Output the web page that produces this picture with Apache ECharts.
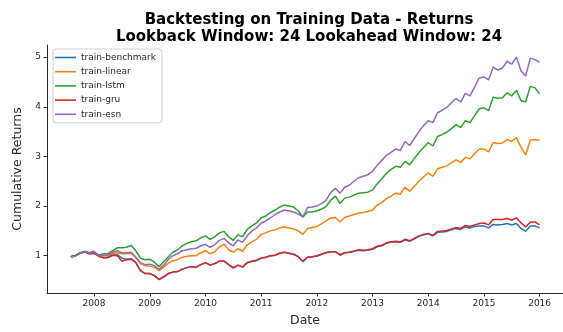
<!DOCTYPE html>
<html>
<head>
<meta charset="utf-8">
<script src="https://cdn.jsdelivr.net/npm/echarts@6/dist/echarts.min.js"></script>
<style>
  html, body { margin: 0; padding: 0; background: #ffffff; }
  #chart { width: 563px; height: 332px; }
</style>
</head>
<body>
<div id="chart"></div>
<script>
// Month-end dates of the backtest (Jul 2007 - Dec 2015)
const months = [
  '2007-07','2007-08','2007-09','2007-10','2007-11','2007-12',
  '2008-01','2008-02','2008-03','2008-04','2008-05','2008-06','2008-07','2008-08','2008-09','2008-10','2008-11','2008-12',
  '2009-01','2009-02','2009-03','2009-04','2009-05','2009-06','2009-07','2009-08','2009-09','2009-10','2009-11','2009-12',
  '2010-01','2010-02','2010-03','2010-04','2010-05','2010-06','2010-07','2010-08','2010-09','2010-10','2010-11','2010-12',
  '2011-01','2011-02','2011-03','2011-04','2011-05','2011-06','2011-07','2011-08','2011-09','2011-10','2011-11','2011-12',
  '2012-01','2012-02','2012-03','2012-04','2012-05','2012-06','2012-07','2012-08','2012-09','2012-10','2012-11','2012-12',
  '2013-01','2013-02','2013-03','2013-04','2013-05','2013-06','2013-07','2013-08','2013-09','2013-10','2013-11','2013-12',
  '2014-01','2014-02','2014-03','2014-04','2014-05','2014-06','2014-07','2014-08','2014-09','2014-10','2014-11','2014-12',
  '2015-01','2015-02','2015-03','2015-04','2015-05','2015-06','2015-07','2015-08','2015-09','2015-10','2015-11','2015-12'
];

const benchmark = [
  0.98, 1.00, 1.05, 1.08, 1.04, 1.05,
  0.99, 0.96, 0.96, 1.01, 1.02, 0.95, 0.93, 0.94, 0.86, 0.70, 0.64, 0.64,
  0.60, 0.52, 0.57, 0.64, 0.67, 0.68, 0.73, 0.76, 0.78, 0.77, 0.82, 0.86,
  0.81, 0.84, 0.89, 0.89, 0.82, 0.75, 0.81, 0.77, 0.86, 0.89, 0.90, 0.95,
  0.97, 1.00, 1.01, 1.05, 1.07, 1.05, 1.03, 0.98, 0.88, 0.97, 0.98, 0.99,
  1.03, 1.06, 1.08, 1.08, 1.01, 1.06, 1.07, 1.09, 1.11, 1.10, 1.11, 1.13,
  1.18, 1.20, 1.25, 1.27, 1.28, 1.27, 1.32, 1.29, 1.34, 1.39, 1.42, 1.44,
  1.40, 1.47, 1.48, 1.49, 1.52, 1.55, 1.53, 1.58, 1.56, 1.59, 1.60, 1.60,
  1.56, 1.63, 1.62, 1.63, 1.65, 1.62, 1.65, 1.55, 1.49, 1.60, 1.60, 1.56
];

const linear = [
  0.98, 1.00, 1.05, 1.08, 1.05, 1.06,
  1.00, 1.00, 1.00, 1.04, 1.06, 1.04, 1.04, 1.05, 0.96, 0.84, 0.80, 0.79,
  0.77, 0.70, 0.77, 0.85, 0.90, 0.92, 0.97, 0.99, 1.00, 1.00, 1.06, 1.10,
  1.04, 1.08, 1.18, 1.23, 1.12, 1.07, 1.14, 1.09, 1.22, 1.28, 1.33, 1.43,
  1.46, 1.50, 1.52, 1.56, 1.58, 1.56, 1.54, 1.50, 1.43, 1.55, 1.57, 1.59,
  1.64, 1.70, 1.76, 1.77, 1.68, 1.77, 1.80, 1.83, 1.86, 1.87, 1.89, 1.92,
  2.02, 2.07, 2.15, 2.20, 2.26, 2.24, 2.38, 2.30, 2.40, 2.50, 2.59, 2.67,
  2.60, 2.75, 2.78, 2.81, 2.87, 2.93, 2.88, 2.98, 2.95, 3.06, 3.15, 3.15,
  3.09, 3.28, 3.26, 3.27, 3.34, 3.30, 3.38, 3.18, 3.03, 3.33, 3.34, 3.32
];

const lstm = [
  0.98, 1.00, 1.06, 1.09, 1.06, 1.09,
  1.01, 1.04, 1.04, 1.10, 1.16, 1.16, 1.17, 1.21, 1.10, 0.95, 0.92, 0.93,
  0.87, 0.78, 0.88, 0.98, 1.07, 1.12, 1.20, 1.25, 1.28, 1.30, 1.36, 1.40,
  1.33, 1.38, 1.46, 1.49, 1.38, 1.31, 1.42, 1.38, 1.53, 1.60, 1.66, 1.76,
  1.80, 1.87, 1.92, 1.98, 2.02, 2.00, 1.98, 1.90, 1.78, 1.88, 1.88, 1.90,
  1.94, 1.99, 2.12, 2.20, 2.05, 2.16, 2.18, 2.22, 2.26, 2.27, 2.28, 2.32,
  2.45, 2.55, 2.66, 2.74, 2.80, 2.78, 2.90, 2.83, 2.96, 3.08, 3.18, 3.28,
  3.21, 3.40, 3.44, 3.49, 3.56, 3.64, 3.58, 3.72, 3.68, 3.82, 3.96, 3.98,
  3.92, 4.19, 4.17, 4.18, 4.28, 4.22, 4.33, 4.12, 4.10, 4.41, 4.38, 4.26
];

const gru = [
  0.98, 1.00, 1.05, 1.08, 1.04, 1.05,
  0.99, 0.96, 0.97, 1.01, 1.00, 0.89, 0.92, 0.93, 0.86, 0.70, 0.64, 0.64,
  0.60, 0.52, 0.58, 0.64, 0.67, 0.68, 0.73, 0.76, 0.78, 0.77, 0.82, 0.86,
  0.81, 0.84, 0.89, 0.89, 0.82, 0.76, 0.81, 0.77, 0.86, 0.89, 0.91, 0.95,
  0.97, 1.00, 1.01, 1.05, 1.07, 1.05, 1.03, 0.98, 0.89, 0.97, 0.98, 1.00,
  1.03, 1.06, 1.08, 1.08, 1.02, 1.06, 1.07, 1.09, 1.12, 1.11, 1.12, 1.14,
  1.19, 1.21, 1.26, 1.28, 1.29, 1.28, 1.33, 1.30, 1.35, 1.40, 1.43, 1.45,
  1.41, 1.49, 1.50, 1.51, 1.54, 1.57, 1.55, 1.61, 1.59, 1.62, 1.65, 1.66,
  1.62, 1.73, 1.73, 1.73, 1.75, 1.72, 1.76, 1.66, 1.58, 1.68, 1.68, 1.62
];

const esn = [
  0.98, 0.99, 1.05, 1.08, 1.05, 1.08,
  1.00, 1.01, 1.02, 1.07, 1.10, 1.06, 1.06, 1.07, 0.97, 0.86, 0.82, 0.83,
  0.80, 0.72, 0.81, 0.93, 1.00, 1.04, 1.10, 1.12, 1.14, 1.15, 1.20, 1.23,
  1.17, 1.22, 1.31, 1.35, 1.26, 1.20, 1.32, 1.27, 1.40, 1.50, 1.56, 1.66,
  1.70, 1.76, 1.83, 1.88, 1.92, 1.90, 1.88, 1.84, 1.78, 1.97, 1.98, 2.00,
  2.05, 2.12, 2.27, 2.36, 2.26, 2.38, 2.42, 2.50, 2.57, 2.60, 2.63, 2.70,
  2.82, 2.92, 3.02, 3.08, 3.15, 3.12, 3.30, 3.22, 3.36, 3.50, 3.62, 3.72,
  3.68, 3.88, 3.93, 3.99, 4.08, 4.17, 4.10, 4.27, 4.22, 4.40, 4.58, 4.60,
  4.54, 4.80, 4.74, 4.78, 4.92, 4.86, 5.00, 4.72, 4.62, 4.98, 4.95, 4.90
];

const yearTicks = [2008, 2009, 2010, 2011, 2012, 2013, 2014, 2015, 2016];
const returnTicks = [1, 2, 3, 4, 5];

const seriesNames = ['train-benchmark', 'train-linear', 'train-lstm', 'train-gru', 'train-esn'];
const seriesColors = ['#1f77b4', '#ff7f0e', '#2ca02c', '#d62728', '#9467bd'];
const seriesValues = [benchmark, linear, lstm, gru, esn];

// month-end as a decimal year, e.g. '2007-07' -> 2007 + 7/12
const xYears = months.map(m => {
  const [y, mo] = m.split('-').map(Number);
  return y + mo / 12;
});

const textColor = '#262626';
const font = 'DejaVu Sans';

const chart = echarts.init(document.getElementById('chart'), null, { renderer: 'canvas' });

chart.setOption({
  animation: false,
  backgroundColor: '#ffffff',
  textStyle: { fontFamily: font },
  title: {
    text: 'Backtesting on Training Data - Returns\nLookback Window: 24 Lookahead Window: 24',
    left: 309,
    top: 12,
    padding: 0,
    textAlign: 'center',
    textStyle: {
      fontFamily: font,
      fontWeight: 'bold',
      fontSize: 15,
      lineHeight: 16.5,
      color: '#000000'
    }
  },
  legend: {
    orient: 'vertical',
    left: 53,
    top: 49,
    icon: 'rect',
    itemWidth: 21,
    itemHeight: 1.6,
    itemGap: 3.2,
    padding: [3, 6, 3, 2],
    backgroundColor: 'rgba(255,255,255,0.8)',
    borderColor: '#d0d0d0',
    borderWidth: 1,
    borderRadius: 3,
    textStyle: { fontFamily: font, fontSize: 9, lineHeight: 11, color: textColor },
    data: seriesNames
  },
  grid: {
    left: 47,
    top: 45,
    width: 518,
    height: 256,
    containLabel: false
  },
  xAxis: {
    type: 'value',
    min: 2007.155,
    max: 2016.42,
    name: 'Date',
    nameLocation: 'middle',
    nameGap: 21,
    nameTextStyle: { fontFamily: font, fontSize: 12.5, color: textColor },
    axisLine: { show: true, lineStyle: { color: textColor, width: 1 } },
    axisTick: { show: true, length: 3.5, lineStyle: { color: textColor }, customValues: yearTicks },
    axisLabel: {
      fontFamily: font,
      fontSize: 9,
      color: textColor,
      margin: 6,
      customValues: yearTicks,
      formatter: v => String(Math.round(v))
    },
    splitLine: { show: false }
  },
  yAxis: {
    type: 'value',
    min: 0.249,
    max: 5.244,
    name: 'Cumulative Returns',
    nameLocation: 'middle',
    nameGap: 14,
    nameTextStyle: { fontFamily: font, fontSize: 12.5, color: textColor },
    axisLine: { show: true, lineStyle: { color: textColor, width: 1 } },
    axisTick: { show: true, length: 3.5, lineStyle: { color: textColor }, customValues: returnTicks },
    axisLabel: {
      fontFamily: font,
      fontSize: 9,
      color: textColor,
      margin: 6,
      customValues: returnTicks,
      formatter: v => String(Math.round(v))
    },
    splitLine: { show: false }
  },
  series: seriesNames.map((name, k) => ({
    name: name,
    type: 'line',
    showSymbol: false,
    symbol: 'none',
    color: seriesColors[k],
    lineStyle: { width: 1.5, color: seriesColors[k] },
    data: xYears.map((x, i) => [x, seriesValues[k][i]])
  }))
});
</script>
</body>
</html>
